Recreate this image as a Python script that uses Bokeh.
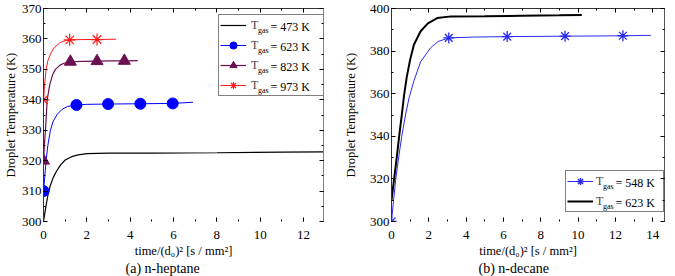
from bokeh.plotting import figure
from bokeh.layouts import row
from bokeh.models import (Range1d, LinearAxis, SingleIntervalTicker, Legend,
                          LegendItem, Label, Title)
from bokeh.embed import file_html
from bokeh.resources import INLINE

FONT = "Liberation Serif"

# ---------------- (a) n-heptane ----------------
hep_473_t = [0, 0.1, 0.2, 0.3, 0.45, 0.6, 0.8, 1.0, 1.3, 1.6, 2.0, 2.5, 3.0, 5.0, 8.0, 11.0, 12.9]
hep_473_T = [300, 304.5, 308.5, 311.5, 314.5, 316.5, 318.7, 320.2, 321.3, 321.9, 322.3, 322.4, 322.5, 322.5, 322.6, 322.8, 322.9]

hep_623_t = [0, 0.05, 0.12, 0.2, 0.32, 0.45, 0.63, 0.85, 1.1, 1.52, 2.0, 2.98, 4.47, 5.96, 6.9]
hep_623_T = [310, 314, 320, 325, 330, 333, 335.2, 336.8, 337.8, 338.3, 338.5, 338.6, 338.7, 338.8, 339.2]
hep_623_mt = [0, 1.52, 2.98, 4.47, 5.96]
hep_623_mT = [310, 338.3, 338.6, 338.7, 338.8]

hep_823_t = [0, 0.04, 0.09, 0.17, 0.29, 0.42, 0.55, 0.75, 0.94, 1.24, 1.8, 2.47, 3.1, 3.73, 4.35]
hep_823_T = [320, 325, 330, 340, 345, 348.2, 350, 351.3, 352.0, 352.5, 352.6, 352.7, 352.8, 352.8, 352.9]
hep_823_mt = [0, 1.24, 2.47, 3.73]
hep_823_mT = [320, 352.5, 352.7, 352.8]

hep_973_t = [0, 0.05, 0.12, 0.2, 0.32, 0.45, 0.63, 0.8, 1.0, 1.21, 1.8, 2.47, 3.35]
hep_973_T = [340, 345, 350, 352.8, 355, 356.7, 358, 358.9, 359.4, 359.7, 359.8, 359.8, 359.9]
hep_973_mt = [0, 1.21, 2.47]
hep_973_mT = [340, 359.7, 359.8]

hep_legend_temps = ["= 473 K", "= 623 K", "= 823 K", "= 973 K"]

# ---------------- (b) n-decane ----------------
dec_548_t = [0, 0.1, 0.23, 0.4, 0.55, 0.75, 0.94, 1.2, 1.56, 2.09, 2.5, 3.07, 4.5, 6.2, 7.8, 9.3, 11.0, 12.4, 13.9]
dec_548_T = [300, 309, 320, 331, 340, 350, 358, 366, 375, 381.5, 384.5, 386.2, 386.6, 386.8, 386.9, 387.0, 387.1, 387.2, 387.4]
dec_548_mt = [0, 3.07, 6.2, 9.3, 12.4]
dec_548_mT = [300, 386.2, 386.8, 387.0, 387.2]

dec_623_t = [0, 0.14, 0.28, 0.41, 0.55, 0.67, 0.82, 1.0, 1.2, 1.56, 1.95, 2.45, 3.2, 5.0, 7.0, 9.0, 10.2]
dec_623_T = [310, 320, 330, 340, 350, 359, 368, 376, 383, 389.3, 393, 395.5, 396.3, 396.4, 396.6, 396.8, 397.0]

dec_legend_temps = ["= 548 K", "= 623 K"]

X_LABEL = "time/(d\u2080)\u00b2 [s / mm\u00b2]"
Y_LABEL = "Droplet Temperature (K)"
TITLES = ["(a) n-heptane", "(b) n-decane"]


def make_fig(width, xr, yr, xint, yint, borders, right_col, ylab_standoff):
    bl, br, bt, bb = borders
    p = figure(width=width, height=276, x_range=Range1d(*xr), y_range=Range1d(*yr),
               output_backend="svg", toolbar_location=None, title_location=None,
               min_border_left=bl, min_border_right=br, min_border_top=bt,
               min_border_bottom=bb, outline_line_color=None,
               background_fill_color="white", border_fill_color="white")
    p.xgrid.visible = False
    p.ygrid.visible = False
    p.xaxis.ticker = SingleIntervalTicker(interval=xint, num_minor_ticks=2)
    p.yaxis.ticker = SingleIntervalTicker(interval=yint, num_minor_ticks=2)
    for ax in (p.xaxis[0], p.yaxis[0]):
        ax.major_tick_in = 4
        ax.major_tick_out = 0
        ax.minor_tick_in = 2
        ax.minor_tick_out = 0
        ax.major_tick_line_color = "black"
        ax.minor_tick_line_color = "black"
        ax.major_label_text_font = FONT
        ax.major_label_text_font_size = "13px"
        ax.major_label_text_color = "black"
        ax.axis_label_text_font = FONT
        ax.axis_label_text_font_style = "normal"
        ax.axis_label_text_color = "black"
    xa = p.xaxis[0]
    xa.axis_line_color = None
    xa.major_label_standoff = 9
    xa.axis_label = X_LABEL
    xa.axis_label_text_font_size = "12.5px"
    xa.axis_label_standoff = 2
    ya = p.yaxis[0]
    ya.axis_line_color = "#333333"
    ya.major_label_standoff = 2
    ya.axis_label = Y_LABEL
    ya.axis_label_text_font_size = "12.5px"
    ya.axis_label_standoff = ylab_standoff

    top = LinearAxis(ticker=SingleIntervalTicker(interval=xint, num_minor_ticks=2))
    right = LinearAxis(ticker=SingleIntervalTicker(interval=yint, num_minor_ticks=2))
    for ax, col in ((top, "#333333"), (right, right_col)):
        ax.axis_line_color = col
        ax.major_tick_in = 4
        ax.major_tick_out = 0
        ax.minor_tick_in = 2
        ax.minor_tick_out = 0
        ax.major_tick_line_color = "black"
        ax.minor_tick_line_color = "black"
        ax.major_label_text_color = None
        ax.major_label_text_font_size = "0px"
        ax.major_label_standoff = 0
        ax.axis_label = None
    p.add_layout(top, "above")
    p.add_layout(right, "right")
    return p


def add_legend(p, items, loc, label_width, standoff, texts, row_ys, gas_x, eq_x):
    leg = Legend(items=items, location=loc, padding=1, spacing=2, margin=0,
                 glyph_width=26, glyph_height=18, label_height=18,
                 label_width=label_width, label_standoff=standoff,
                 label_text_font=FONT, label_text_font_size="12px",
                 border_line_color="black", border_line_width=1,
                 background_fill_color=None)
    p.add_layout(leg, "center")
    for txt, y in zip(texts, row_ys):
        p.add_layout(Label(x=gas_x, y=y - 4, x_units="screen", y_units="screen",
                           text="gas", text_font=FONT, text_font_size="8px",
                           text_baseline="middle", text_color="black"))
        p.add_layout(Label(x=eq_x, y=y, x_units="screen", y_units="screen",
                           text=txt, text_font=FONT, text_font_size="12px",
                           text_baseline="middle", text_color="black"))


def add_title(p, text, offset):
    p.add_layout(Title(text=text, align="left", offset=offset, standoff=-1,
                       vertical_align="middle",
                       text_font=FONT, text_font_size="14px",
                       text_font_style="normal", text_color="black"), "below")


# ---- left figure ----
p1 = make_fig(340, (0, 12.92), (300, 370), 2, 10, (43, 17, 8, 0), "#808080", 1)
BLUE = "#0000ff"
PURPLE = "#6b1050"
RED = "#ff1a1a"
r473 = p1.line(hep_473_t, hep_473_T, line_color="black", line_width=1.2)
r623l = p1.line(hep_623_t, hep_623_T, line_color=BLUE, line_width=1)
r623m = p1.scatter(hep_623_mt, hep_623_mT, marker="circle", size=11,
                   fill_color=BLUE, line_color=BLUE)
r823l = p1.line(hep_823_t, hep_823_T, line_color=PURPLE, line_width=1.2)
r823m = p1.scatter(hep_823_mt, hep_823_mT, marker="triangle", size=12,
                   fill_color=PURPLE, line_color=PURPLE)
r973l = p1.line(hep_973_t, hep_973_T, line_color=RED, line_width=1)
r973m = p1.scatter(hep_973_mt, hep_973_mT, marker="asterisk", size=12,
                   line_color=RED, line_width=1.2)
items1 = [LegendItem(label="T", renderers=[r473]),
          LegendItem(label="T", renderers=[r623l, r623m]),
          LegendItem(label="T", renderers=[r823l, r823m]),
          LegendItem(label="T", renderers=[r973l, r973m])]
add_legend(p1, items1, (175, 125), 71, 5, hep_legend_temps,
           [195 - 20 * i for i in range(4)], 214.5, 227)
add_title(p1, TITLES[0], 82)

# ---- right figure ----
p2 = make_fig(335, (0, 14.63), (300, 400), 2, 20, (49, 11, 7, 0), "#555555", 9)
DBLUE = "#2a2af5"
d548l = p2.line(dec_548_t, dec_548_T, line_color=DBLUE, line_width=1)
d548m = p2.scatter(dec_548_mt, dec_548_mT, marker="asterisk", size=11,
                   line_color=DBLUE, line_width=1.3)
d623 = p2.line(dec_623_t, dec_623_T, line_color="black", line_width=2)
items2 = [LegendItem(label="T", renderers=[d548l, d548m]),
          LegendItem(label="T", renderers=[d623])]
add_legend(p2, items2, (174, 9), 66, 3, dec_legend_temps, [39, 19], 211.5, 224)
add_title(p2, TITLES[1], 87)

layout = row(p1, p2)
open("out.html", "w").write(file_html(layout, INLINE))
